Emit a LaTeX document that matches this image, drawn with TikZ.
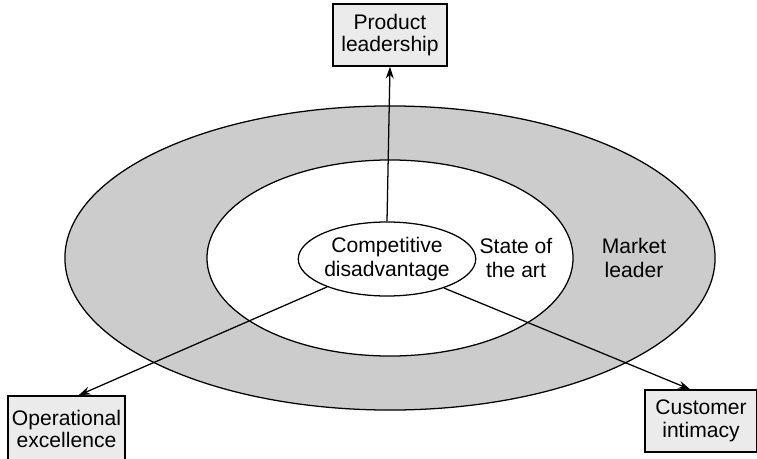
\documentclass[tikz,border=0pt]{standalone}
\usepackage{fontspec}
\setmainfont{Liberation Sans}
\usetikzlibrary{shapes.geometric,arrows.meta}
\definecolor{ringgray}{gray}{0.80}
\definecolor{boxgray}{gray}{0.92}
\begin{document}
\begin{tikzpicture}[x=0.025cm,y=-0.025cm,line width=0.9pt,
    txt/.style={align=center,font=\fontsize{15}{16}\selectfont},
    box/.style={txt,draw,fill=boxgray,inner sep=0pt,minimum height=1.55cm},
    arr/.style={-{Stealth[length=3mm,width=2mm]}}]
    \useasboundingbox (0,0) rectangle (757,459);
    % rings
    \draw[fill=ringgray] (390,258) ellipse (8.125cm and 3.8cm);
    \draw[fill=white] (390,258) ellipse (4.575cm and 2.45cm);
    \node[ellipse,draw,fill=white,inner sep=0pt,minimum width=4.25cm,minimum height=1.85cm,
        txt,font=\fontsize{15}{17.5}\selectfont] (comp) at (387,259) {Competitive\\disadvantage};
    \node[txt,font=\fontsize{15}{17.5}\selectfont] (art) at (516,258) {State of\\the art};
    \node[txt,font=\fontsize{15}{17.5}\selectfont] (mkt) at (634,258) {Market\\leader};
    % boxes
    \node[box,minimum width=2.85cm] (prod) at (390,35) {Product\\leadership};
    \node[box,minimum width=2.925cm,minimum height=1.65cm] (op) at (66.5,429) {Operational\\excellence};
    \node[box,minimum width=2.8cm] (cust) at (701,421) {Customer\\intimacy};
    % arrows
    \draw[arr] (comp.north) -- (prod.south);
    \draw[arr] (comp.205) -- ([xshift=0.3cm]op.north);
    \draw[arr] (comp.333) -- ([xshift=-0.27cm]cust.north);
\end{tikzpicture}
\end{document}
